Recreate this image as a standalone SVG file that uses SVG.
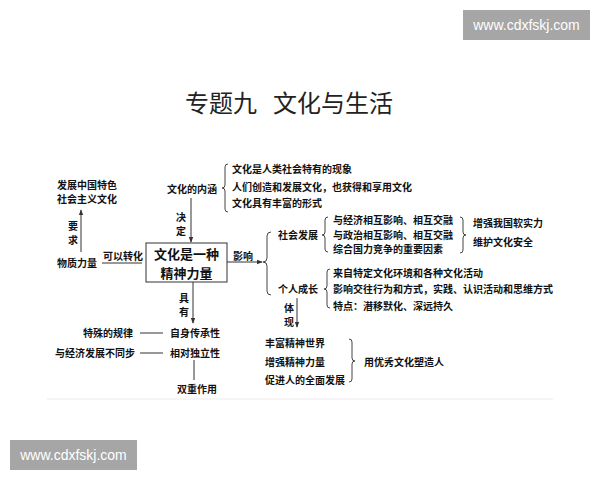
<svg xmlns="http://www.w3.org/2000/svg" width="600" height="480" viewBox="0 0 600 480">
<defs>
<style>
.t{font-family:"Noto Sans CJK SC","Noto Sans",sans-serif;font-size:10px;font-weight:bold;fill:#111}
.title{font-family:"Noto Sans CJK SC","Noto Sans",sans-serif;font-size:24px;fill:#222}
.box{font-family:"Noto Sans CJK SC","Noto Sans",sans-serif;font-size:13px;font-weight:bold;fill:#111}
.wm{font-family:"Liberation Sans","DejaVu Sans",sans-serif;font-size:14px;fill:#fff}
.ln{stroke:#333;stroke-width:1;fill:none}
.br{stroke:#444;stroke-width:1;fill:none}
</style>
<marker id="ah" viewBox="0 0 8 8" refX="7" refY="4" markerWidth="6" markerHeight="6" orient="auto" markerUnits="userSpaceOnUse">
<path d="M0,1 L8,4 L0,7 z" fill="#333"/>
</marker>
</defs>
<rect width="600" height="480" fill="#fff"/>

<g id="watermark-top"><rect x="463" y="10" width="127" height="30" fill="#a6a6a6"/><text class="wm" x="526.5" y="30" text-anchor="middle">www.cdxfskj.com</text></g>
<g id="watermark-bottom"><rect x="10" y="440" width="127" height="30" fill="#a6a6a6"/><text class="wm" x="73.5" y="460" text-anchor="middle">www.cdxfskj.com</text></g>

<g id="title"><text class="title" x="185" y="112">专题九<tspan x="273">文化与生活</tspan></text></g>

<line x1="47" y1="399" x2="553" y2="399" stroke="#ebebeb" stroke-width="1"/>

<g id="connectors">
<line class="ln" x1="81" y1="252" x2="81" y2="210" marker-end="url(#ah)"/>
<line class="ln" x1="102" y1="263" x2="142" y2="263"/>
<line class="ln" x1="191" y1="198" x2="191" y2="242" marker-end="url(#ah)"/>
<line class="ln" x1="227" y1="262" x2="262" y2="262" marker-end="url(#ah)"/>
<line class="ln" x1="193" y1="282" x2="193" y2="323" marker-end="url(#ah)"/>
<line class="ln" x1="140" y1="333" x2="163" y2="333"/>
<line class="ln" x1="140" y1="353" x2="163" y2="353"/>
<line class="ln" x1="194" y1="360" x2="194" y2="380"/>
<line class="ln" x1="297" y1="298" x2="297" y2="327" marker-end="url(#ah)"/>
<path class="br" d="M228,164 Q225,164 225,167 L225,185 Q225,188 222,188 Q225,188 225,191 L225,209 Q225,212 228,212"/>
<path class="br" d="M271,232 Q267,232 267,236 L267,258 Q267,262 263,262 Q267,262 267,266 L267,291 Q267,295 271,295"/>
<path class="br" d="M328,217 Q325,217 325,220 L325,232 Q325,235 322,235 Q325,235 325,238 L325,249 Q325,252 328,252"/>
<path class="br" d="M330,269 Q327,269 327,272 L327,286 Q327,289 324,289 Q327,289 327,292 L327,305 Q327,308 330,308"/>
<path class="br" d="M460,217 Q463,217 463,220 L463,232 Q463,235 466,235 Q463,235 463,238 L463,250 Q463,253 460,253"/>
<path class="br" d="M349,339 Q352,339 352,342 L352,358 Q352,361 355,361 Q352,361 352,364 L352,379 Q352,382 349,382"/>
</g>

<g id="node-main"><rect x="146" y="243" width="81" height="39" fill="#fff" stroke="#333" stroke-width="1"/>
<text class="box" x="186.5" y="259" text-anchor="middle">文化是一种</text>
<text class="box" x="186.5" y="278" text-anchor="middle">精神力量</text></g>

<g id="node-socialism"><text class="t" x="57" y="189">发展中国特色</text><text class="t" x="57" y="203">社会主义文化</text></g>
<g id="label-yaoqiu"><text class="t" x="73" y="230" text-anchor="middle">要</text><text class="t" x="73" y="244" text-anchor="middle">求</text></g>
<g id="node-material"><text class="t" x="57" y="267">物质力量</text></g>
<g id="label-transform"><text class="t" x="103" y="260">可以转化</text></g>

<g id="node-connotation"><text class="t" x="167" y="193">文化的内涵</text></g>
<g id="label-decide"><text class="t" x="181" y="221" text-anchor="middle">决</text><text class="t" x="181" y="235" text-anchor="middle">定</text></g>
<g id="node-connotation-items">
<text class="t" x="232" y="173">文化是人类社会特有的现象</text>
<text class="t" x="232" y="191">人们创造和发展文化，也获得和享用文化</text>
<text class="t" x="232" y="207">文化具有丰富的形式</text>
</g>

<g id="label-influence"><text class="t" x="233" y="260">影响</text></g>

<g id="node-society"><text class="t" x="278" y="239">社会发展</text></g>
<g id="node-society-items">
<text class="t" x="333" y="224">与经济相互影响、相互交融</text>
<text class="t" x="333" y="239">与政治相互影响、相互交融</text>
<text class="t" x="333" y="253">综合国力竞争的重要因素</text>
</g>
<g id="node-soft-power">
<text class="t" x="473" y="227">增强我国软实力</text>
<text class="t" x="473" y="246">维护文化安全</text>
</g>

<g id="node-personal"><text class="t" x="278" y="293">个人成长</text></g>
<g id="node-personal-items">
<text class="t" x="333" y="277">来自特定文化环境和各种文化活动</text>
<text class="t" x="333" y="293">影响交往行为和方式，实践、认识活动和思维方式</text>
<text class="t" x="333" y="310">特点：潜移默化、深远持久</text>
</g>
<g id="label-embody"><text class="t" x="289" y="312" text-anchor="middle">体</text><text class="t" x="289" y="326" text-anchor="middle">现</text></g>
<g id="node-spirit-items">
<text class="t" x="265" y="347">丰富精神世界</text>
<text class="t" x="265" y="366">增强精神力量</text>
<text class="t" x="265" y="384">促进人的全面发展</text>
</g>
<g id="node-shape-people"><text class="t" x="364" y="366">用优秀文化塑造人</text></g>

<g id="label-have"><text class="t" x="184" y="302" text-anchor="middle">具</text><text class="t" x="184" y="316" text-anchor="middle">有</text></g>
<g id="node-inherit"><text class="t" x="170" y="337">自身传承性</text></g>
<g id="node-special-law"><text class="t" x="83" y="337">特殊的规律</text></g>
<g id="node-independent"><text class="t" x="170" y="357">相对独立性</text></g>
<g id="node-async"><text class="t" x="55" y="357">与经济发展不同步</text></g>
<g id="node-dual"><text class="t" x="177" y="393">双重作用</text></g>
</svg>
